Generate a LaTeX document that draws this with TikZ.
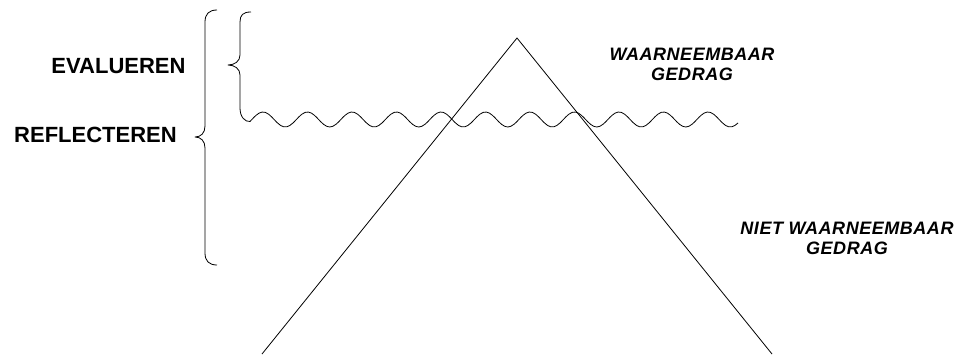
\documentclass[tikz,border=0pt]{standalone}
\usepackage{fontspec}
\setmainfont{Liberation Sans}
\usetikzlibrary{positioning}

\begin{document}
\begin{tikzpicture}[x=1pt,y=-1pt,
  lvl/.style={inner sep=0pt,font=\fontsize{22}{24}\selectfont\bfseries},
  beh/.style={inner sep=0pt,align=center,font=\fontsize{18}{20}\selectfont\bfseries\itshape\addfontfeature{LetterSpace=3}},
  ln/.style={line width=0.8pt,line join=round}
]
  \useasboundingbox (0,0) rectangle (961,356);
  % iceberg
  \coordinate (top) at (517,38);
  \coordinate (bl) at (262,354);
  \coordinate (br) at (772,354);
  \draw[ln] (bl) -- (top) -- (br);
  % labels
  \node[lvl] (eval) at (118.5,66) {EVALUEREN};
  \node[lvl] (refl) at (95.5,135) {REFLECTEREN};
  \node[beh] (obs) at (692,64) {WAARNEEMBAAR\\GEDRAG};
  \node[beh] (unobs) at (847,238) {NIET WAARNEEMBAAR\\GEDRAG};
  % big brace
  \draw[ln] (217,10) .. controls (209,10) and (205,14) .. (205,22) -- (205,126)
    .. controls (205,133) and (201,137) .. (195,137)
    .. controls (201,137) and (205,141) .. (205,148) -- (205,253)
    .. controls (205,261) and (209,265) .. (217,265);
  % small brace running into the water line
  \draw[ln] (251,12) .. controls (243,12) and (240,15) .. (240,22) -- (240,55)
    .. controls (240,61) and (235,65) .. (228,65)
    .. controls (235,65) and (240,69) .. (240,75) -- (240,108)
    .. controls (240,117) and (245,122) .. (250,121.5)
    -- plot[domain=250:738,samples=160,smooth] (\x,{119.5-7.5*cos(8.0899*(\x-263))});
\end{tikzpicture}
\end{document}
